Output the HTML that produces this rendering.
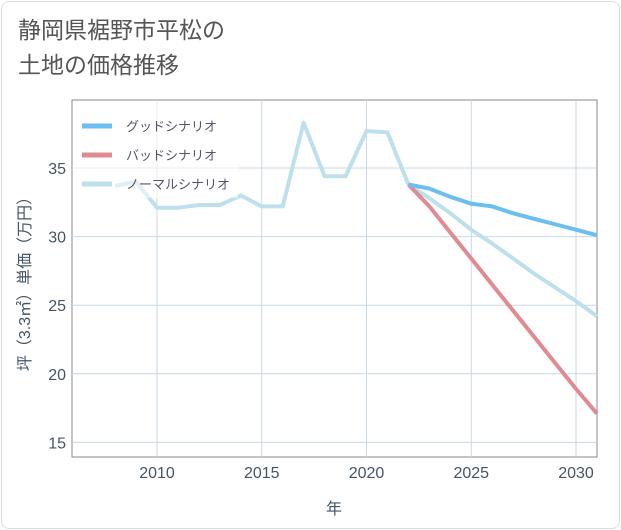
<!DOCTYPE html>
<html><head><meta charset="utf-8"><style>
body{margin:0;background:#fff;font-family:"Liberation Sans","Noto Sans CJK JP",sans-serif;}
#card{position:absolute;left:1px;top:1px;width:617px;height:526px;border:1px solid #ddd;border-radius:8px;background:#fff;}
#title{position:absolute;left:18px;top:13px;font-size:23px;line-height:35px;color:#555;}
</style></head><body>
<div id="card"></div>
<div id="title">静岡県裾野市平松の<br>土地の価格推移</div>
<svg id="chart" width="621" height="530" style="position:absolute;left:0;top:0"></svg>
<script>
const years=[2008,2009,2010,2011,2012,2013,2014,2015,2016,2017,2018,2019,2020,2021,2022];
const normalHist=[33.7,34.0,32.1,32.1,32.3,32.3,33.0,32.2,32.2,38.3,34.4,34.4,37.7,37.6,33.8];
const futureYears=[2022,2023,2024,2025,2026,2027,2028,2029,2030,2031];
const goodVals=[33.8,33.5,32.9,32.4,32.2,31.7,31.3,30.9,30.5,30.1];
const badVals=[33.8,32.2,30.3,28.4,26.5,24.6,22.7,20.8,18.9,17.1];
const normalFuture=[33.8,32.8,31.7,30.5,29.5,28.4,27.3,26.3,25.3,24.2];
const xTicks=[2010,2015,2020,2025,2030];
const yTicks=[15,20,25,30,35];
const L=72,R=597,T=100,B=457;
const x=v=>157+(v-2010)*20.95;
const y=v=>168+(35-v)*13.72;
const svg=document.getElementById('chart');
const NS='http://www.w3.org/2000/svg';
function mk(t,a,p){const e=document.createElementNS(NS,t);for(const k in a)e.setAttribute(k,a[k]);(p||svg).appendChild(e);return e;}
const frame=mk('rect',{x:L,y:T,width:R-L,height:B-T,fill:'none',stroke:'#888','stroke-width':1});


xTicks.forEach(t=>{
 const g=mk('line',{x1:x(t),x2:x(t),y1:T,y2:B,stroke:'#c9d9e4'});
 
 
 const tx=mk('text',{x:x(t),y:478,'text-anchor':'middle','font-size':16,fill:'#456'});
 tx.textContent=t;
 
 
});
yTicks.forEach(t=>{
 const g=mk('line',{x1:L,x2:R,y1:y(t),y2:y(t),stroke:'#c9d9e4'});
 
 
 const tx=mk('text',{x:66,y:y(t)+6,'text-anchor':'end','font-size':16,fill:'#456'});
 tx.textContent=t;
 
 
});
function line(xs,vs,c,name){
 const p=mk('polyline',{points:xs.map((v,i)=>x(v)+','+y(vs[i])).join(' '),fill:'none',stroke:c,'stroke-width':4,'stroke-linejoin':'round'});
 
 
}
line(years,normalHist,'#bde0ec','normal-history-line');
line(futureYears,normalFuture,'#bde0ec','normal-scenario-line');
line(futureYears,badVals,'#e08a91','bad-scenario-line');
line(futureYears,goodVals,'#6bbef2','good-scenario-line');
const lg=mk('rect',{x:L+1,y:T+1,width:165,height:97,fill:'rgba(255,255,255,0.5)'});


[['グッドシナリオ','#6bbef2'],['バッドシナリオ','#e08a91'],['ノーマルシナリオ','#bde0ec']].forEach((d,i)=>{
 const yy=126+i*29;
 const l=mk('line',{x1:82,x2:112,y1:yy,y2:yy,stroke:d[1],'stroke-width':5});
 
 
 const t=mk('text',{x:126,y:yy+5,'font-size':13,fill:'#556'});
 t.textContent=d[0];
 
 
});
const xt=mk('text',{x:334,y:514,'text-anchor':'middle','font-size':16,fill:'#456'});
xt.textContent='年';


const yt=mk('text',{x:0,y:0,'text-anchor':'middle','font-size':16,fill:'#456',transform:'translate(30,280) rotate(-90)'});
yt.textContent='坪（3.3㎡）単価（万円）';


</script>
</body></html>
